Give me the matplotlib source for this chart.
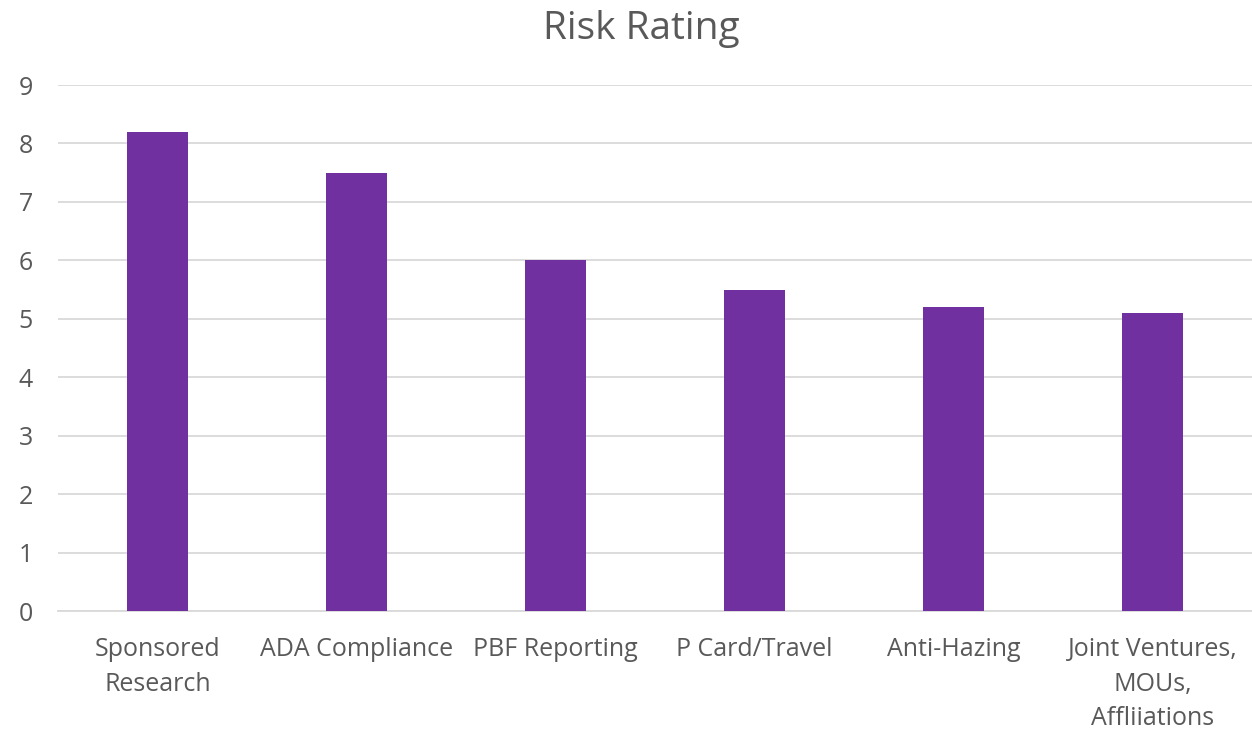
"""Risk Rating - bar chart."""
import matplotlib
matplotlib.use("Agg")
from matplotlib import pyplot as plt

categories = [
    "Sponsored\nResearch",
    "ADA Compliance",
    "PBF Reporting",
    "P Card/Travel",
    "Anti-Hazing",
    "Joint Ventures,\nMOUs,\nAffliiations",
]
ratings = [8.2, 7.5, 6.0, 5.5, 5.2, 5.1]
y_ticks = [0, 1, 2, 3, 4, 5, 6, 7, 8, 9]

TEXT = "#595959"
BAR = "#7030A0"
GRID = "#D9D9D9"

plt.rcParams["font.family"] = ["Open Sans", "DejaVu Sans"]

figure = plt.figure(figsize=(12.52, 7.33), dpi=100)
ax = figure.add_axes([0.0463, 0.1664, 0.9537, 0.7176])

positions = list(range(len(categories)))
ax.bar(positions, ratings, width=0.31, color=BAR, zorder=3)

ax.set_xlim(-0.5, len(categories) - 0.5)
ax.set_ylim(0, 9)
ax.set_yticks(y_ticks)
ax.set_xticks(positions)
ax.set_xticklabels(categories, fontsize=18, color=TEXT, linespacing=1.5)
ax.tick_params(axis="y", labelsize=18, labelcolor=TEXT, length=0, pad=18)
ax.tick_params(axis="x", length=0, pad=19)

ax.grid(axis="y", color=GRID, linewidth=1.3, zorder=0)
for side in ["top", "right", "left"]:
    ax.spines[side].set_visible(False)
ax.spines["bottom"].set_color(GRID)
ax.spines["bottom"].set_linewidth(1.3)

figure.text(0.512, 0.96, "Risk Rating", ha="center", va="center",
            fontsize=28, color=TEXT)

figure.savefig("out.png", dpi=100)
plt.close()
